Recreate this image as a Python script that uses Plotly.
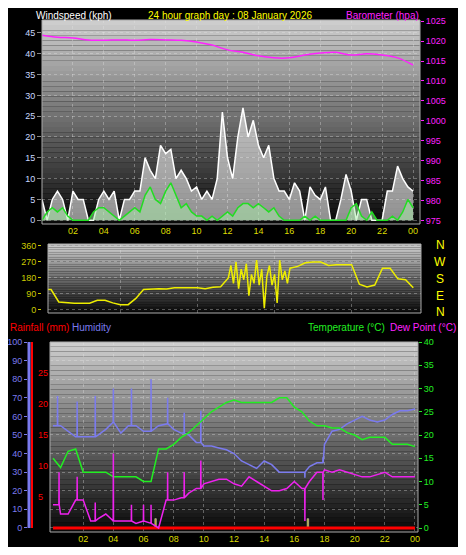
import plotly.graph_objects as go

OFF = 8  # page body margin
W, H = 466 - 2 * OFF, 555 - 2 * OFF

# ---- data ----
hours_half = [i * 0.5 for i in range(49)]
hours_20 = [i / 3 for i in range(73)]

baro_hours = list(range(25))
baro = [1021.5, 1021, 1020.8, 1020.3, 1020.2, 1020.3, 1020.2, 1020.4, 1020.3, 1020.2,
        1019.8, 1019, 1017.8, 1017.2, 1016.3, 1015.8, 1015.8, 1016.5, 1017, 1017.2,
        1016.5, 1016.8, 1016.5, 1015.8, 1014]

gust = [5, 0, 5, 7, 5, 0, 7, 5, 5, 0, 0, 5, 7, 5, 7, 0, 5, 5, 7, 7, 15, 12, 10,
        18, 16, 17, 10, 12, 10, 7, 8, 5, 7, 5, 10, 26, 15, 10, 20, 27, 20, 24, 18, 15,
        18, 10, 7, 7, 5, 9, 7, 0, 8, 6, 5, 8, 0, 0, 5, 11, 7, 0, 5, 5, 0, 0, 0, 7,
        7, 13, 10, 8, 7]
avg_wind = [0, 2, 3, 2, 3, 1, 0, 0, 0, 0, 2, 3, 3, 2, 1, 0, 1, 2, 3, 2, 6, 8, 5, 4,
            7, 9, 6, 3, 4, 2, 1, 1, 0, 1, 0, 1, 2, 1, 3, 4, 4, 3, 4, 3, 2, 3, 1, 0, 0,
            0, 0, 1, 0, 1, 0, 0, 0, 0, 0, 0, 3, 4, 1, 0, 2, 0, 0, 0, 1, 0, 2, 5, 3]

dir_hours = [0, 0.5, 1, 1.5, 2, 2.5, 3, 3.5, 4, 4.5, 5, 5.5, 6, 6.5, 7, 7.5, 8, 8.5,
             9, 9.5, 10, 10.5, 11, 11.5, 12]
dir_a = [115, 115, 45, 40, 38, 38, 38, 55, 55, 40, 30, 30, 65, 115, 118, 120, 118,
         125, 125, 125, 125, 120, 128, 130, 180]
storm_hours = [12 + i / 6 for i in range(1, 25)]
dir_storm = [250, 150, 270, 120, 230, 170, 260, 80, 200, 150, 280, 140, 230, 10, 190,
             250, 140, 200, 40, 280, 170, 220, 150, 235]
dir_hours_b = [16.5, 17, 17.5, 18, 18.5, 19, 19.5, 20, 20.5, 21, 21.5, 22, 22.5, 23, 23.5, 24]
dir_b = [245, 265, 270, 270, 250, 255, 255, 255, 145, 130, 140, 235, 235, 175, 170, 125]

humidity = [55, 55, 52, 49, 49, 49, 50, 53, 57, 51, 55, 55, 52, 52, 55, 56, 53, 51, 50,
            46, 44, 44, 43, 42, 40, 36, 34, 32, 36, 34, 30, 30, 30, 30, 33, 35, 45, 52,
            53, 56, 58, 60, 58, 57, 58, 61, 63, 63, 64]
hum_spike_hours = [0.3, 1.6, 2.8, 4.0, 5.2, 6.5, 7.6, 8.7, 9.8, 16.7, 17.9]
hum_spike = [71, 68, 71, 75, 75, 80, 70, 62, 63, 27, 38]
temperature = [15, 13, 16.5, 17, 12, 12, 12, 12, 11, 11, 11, 11, 10, 10, 17, 17, 18,
               19.5, 20.5, 22, 23.5, 25, 26, 27, 27.5, 27, 27, 27, 27, 27, 28, 28, 26,
               25, 23, 22, 22, 21.5, 21.5, 20.5, 20, 19, 19.5, 19.5, 19.5, 18, 18, 18, 17.5]
dew_point = [5, 3, 3, 6, 6, 1.5, 2, 3, 1.5, 1.5, 1.5, 1, 1.5, 1, 0, 6, 6, 6.5, 7.5, 8.5,
             9.5, 10, 10.5, 10.5, 9.5, 9, 11, 10, 9, 8, 8, 8.5, 10, 8.5, 10, 12, 12.5,
             12, 12.5, 12, 11.5, 11, 11, 11.5, 12, 11, 11, 11, 11]
dew_spike_hours = [0.4, 1.6, 2.8, 4.0, 5.2, 6.0, 6.5, 7.6, 8.7, 9.8, 16.7, 17.9]
dew_spike = [12, 11, 5.5, 16, 5, 5, 5, 12, 12, 14.5, 1.5, 6]
rain = [0] * 49
rain_bar_hours = [6.8, 16.9]
rain_bar = [1.5, 1.5]

tick_hours = list(range(2, 25, 2))
tick_text = ["%02d" % (h % 24) for h in tick_hours]


def with_spikes(xs, ys, sx, sy):
    # insert one-sample spikes into a series
    pts = list(zip(xs, ys))
    for h, v in zip(sx, sy):
        i = max(k for k, (x, _) in enumerate(pts) if x <= h)
        base = pts[i][1]
        pts[i + 1:i + 1] = [(h - 0.01, base), (h, v), (h + 0.01, base)]
    return [p[0] for p in pts], [p[1] for p in pts]


fig = go.Figure()

# panel 1
fig.add_trace(go.Scatter(x=hours_20, y=gust, mode="lines", line=dict(color="white", width=1.5),
                         fill="tozeroy", fillcolor="rgba(255,255,255,0.55)", xaxis="x", yaxis="y"))
fig.add_trace(go.Scatter(x=hours_20, y=avg_wind, mode="lines", line=dict(color="#22dd22", width=1.5),
                         fill="tozeroy", fillcolor="rgba(170,240,170,0.5)", xaxis="x", yaxis="y"))
fig.add_trace(go.Scatter(x=baro_hours, y=baro, mode="lines", line=dict(color="#ff22ff", width=1.5, shape="spline"),
                         xaxis="x", yaxis="y2"))
# panel 2
dh = dir_hours + storm_hours + dir_hours_b
dv = dir_a + dir_storm + dir_b
fig.add_trace(go.Scatter(x=dh, y=dv, mode="lines", line=dict(color="#eeee00", width=1.5),
                         xaxis="x2", yaxis="y3"))
# panel 3
hx, hy = with_spikes(hours_half, humidity, hum_spike_hours, hum_spike)
fig.add_trace(go.Scatter(x=hx, y=hy, mode="lines", line=dict(color="#7b7bee", width=1.5),
                         xaxis="x3", yaxis="y4"))
fig.add_trace(go.Scatter(x=hours_half, y=rain, mode="lines", line=dict(color="#ff0000", width=3),
                         xaxis="x3", yaxis="y5"))
fig.add_trace(go.Bar(x=rain_bar_hours, y=rain_bar, width=0.1, marker_color="#b0a000",
                     xaxis="x3", yaxis="y5"))
fig.add_trace(go.Scatter(x=hours_half, y=temperature, mode="lines", line=dict(color="#22ee22", width=1.5),
                         xaxis="x3", yaxis="y6"))
dx, dy = with_spikes(hours_half, dew_point, dew_spike_hours, dew_spike)
fig.add_trace(go.Scatter(x=dx, y=dy, mode="lines", line=dict(color="#ee22ee", width=1.5),
                         xaxis="x3", yaxis="y6"))

def py(p):
    return 1 - (p - OFF) / H

def px(p):
    return (p - OFF) / W

grid = dict(showgrid=True, gridcolor="rgba(230,230,230,0.35)", griddash="dot", gridwidth=1,
            zeroline=False, automargin=False)
font = dict(family="Liberation Sans", size=9)

# background gradients
shapes = []
for (x0, x1, y0, y1) in [(42, 420, 20, 224), (48, 421, 244, 313), (50, 418, 342, 532)]:
    n = 40
    for i in range(n):
        c = int(205 - 195 * i / (n - 1))
        shapes.append(dict(type="rect", xref="paper", yref="paper", layer="below", line_width=0,
                           x0=px(x0), x1=px(x1), y0=py(y0 + (y1 - y0) * i / n), y1=py(y0 + (y1 - y0) * (i + 1) / n),
                           fillcolor="rgb(%d,%d,%d)" % (c, c, c)))
    shapes.append(dict(type="rect", xref="paper", yref="paper", layer="above", line=dict(color="#aaaaaa", width=1),
                       x0=px(x0), x1=px(x1), y0=py(y1), y1=py(y0)))
# axis bars on left of panel 3
shapes.append(dict(type="line", xref="paper", yref="paper", x0=px(29), x1=px(29), y0=py(528), y1=py(342),
                   line=dict(color="#7b7bee", width=3)))
shapes.append(dict(type="line", xref="paper", yref="paper", x0=px(32), x1=px(32), y0=py(528), y1=py(342),
                   line=dict(color="#ff0000", width=2)))

xcommon = dict(tickvals=tick_hours, ticktext=tick_text, tickfont=dict(color="#dddd00", **font), ticks="", **grid)

fig.update_layout(
    width=W, height=H, margin=dict(l=0, r=0, t=0, b=0), paper_bgcolor="black", plot_bgcolor="rgba(0,0,0,0)",
    showlegend=False, font=font, shapes=shapes, barmode="overlay",
    xaxis=dict(domain=[px(42), px(420)], range=[0, 24.45], anchor="y", **xcommon),
    yaxis=dict(domain=[py(224), py(20)], range=[-0.9, 48.1], tickvals=list(range(0, 51, 5)),
               tickfont=dict(color="#c8d8ff", **font), ticks="outside", ticklen=4, tickcolor="#888", **grid),
    yaxis2=dict(overlaying="y", side="right", range=[974.1, 1025.3], tickvals=list(range(975, 1026, 5)),
                tickfont=dict(color="#ff22ff", **font), ticks="outside", ticklen=3, tickcolor="#ff22ff",
                showgrid=False, automargin=False),
    xaxis2=dict(domain=[px(48), px(421)], range=[0.3, 24.5], anchor="y3", showticklabels=False, **grid),
    yaxis3=dict(domain=[py(313), py(244)], range=[-17, 371], tickvals=[0, 90, 180, 270, 360],
                tickfont=dict(color="#cccc00", **font), ticks="outside", ticklen=3, tickcolor="#cccc00", **grid),
    xaxis3=dict(domain=[px(50), px(418)], range=[-0.2, 24.2], anchor="y4", **xcommon),
    yaxis4=dict(domain=[py(532), py(342)], range=[-2.2, 100], tickvals=list(range(0, 101, 10)),
                anchor="free", position=px(27), tickfont=dict(color="#7b7bee", **font),
                ticks="outside", ticklen=3, tickcolor="#7b7bee", **grid),
    yaxis5=dict(overlaying="y4", range=[-0.65, 30], tickvals=list(range(0, 31, 5)), anchor="free",
                position=px(34), ticklabelposition="inside", side="left", showgrid=False, zeroline=False,
                automargin=False, tickfont=dict(color="#ff0000", **font)),
    yaxis6=dict(overlaying="y4", side="right", range=[-0.86, 40], tickvals=list(range(0, 41, 5)), anchor="x3",
                tickfont=dict(color="#22ee22", **font), ticks="outside", ticklen=3, tickcolor="#22ee22",
                showgrid=False, zeroline=False, automargin=False),
)

def label(text, x, y, color, anchor="left", size=10.5, yanchor="middle"):
    fig.add_annotation(text=text, x=px(x), y=py(y), xref="paper", yref="paper", showarrow=False,
                       xanchor=anchor, yanchor=yanchor, font=dict(family="Liberation Sans", size=size, color=color))

label("Windspeed (kph)", 34, 8, "white", size=10, yanchor="top")
label("24 hour graph day : 08 January 2026", 230, 8, "#ffff00", "center", 10, "top")
label("Barometer (hpa)", 421, 8, "#ff22ff", "right", 10, "top")
label("Rainfall (mm)", 8, 327, "#ff0000", size=10)
label("Humidity", 70, 327, "#7b7bee", size=10)
label("Temperature (°C)", 387, 327, "#22ee22", "right", 10)
label("Dew Point (°C)", 458, 327, "#ff22ff", "right", 10)
for t, yy in zip(["N", "W", "S", "E", "N"], [245, 262, 279, 296, 312]):
    label(t, 440, yy, "#ffff00", "center", 12)

fig.write_html("out.html")
